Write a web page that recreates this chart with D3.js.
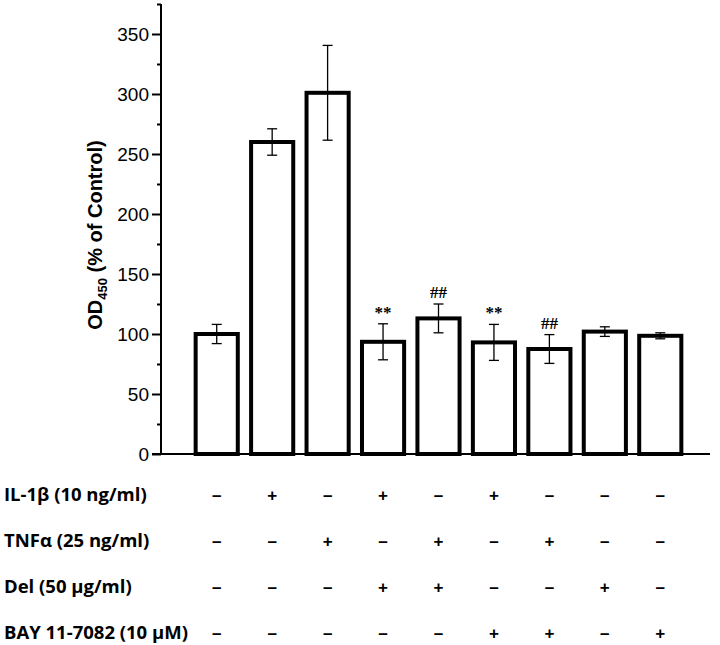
<!DOCTYPE html>
<html>
<head>
<meta charset="utf-8">
<script src="https://cdn.jsdelivr.net/npm/d3@7"></script>
<style>
  body { margin: 0; background: #fff; }
  svg { display: block; }
</style>
</head>
<body>
<svg width="720" height="645"></svg>
<script>
// data
var groups = [1, 2, 3, 4, 5, 6, 7, 8, 9];
var means = [100, 260, 301, 93.5, 113, 93, 87.5, 102, 98.5];
var errs = [8, 11, 39.5, 15, 12, 15, 12, 4, 2.5];
var marks = ["", "", "", "**", "##", "**", "##", "", ""];
var treatNames = ["IL-1\u03b2 (10 ng/ml)", "TNF\u03b1 (25 ng/ml)", "Del (50 \u03bcg/ml)", "BAY 11-7082 (10 \u03bcM)"];
var il1b = [0, 1, 0, 1, 0, 1, 0, 0, 0];
var tnfa = [0, 0, 1, 0, 1, 0, 1, 0, 0];
var del = [0, 0, 0, 1, 1, 0, 0, 1, 0];
var bay = [0, 0, 0, 0, 0, 1, 1, 0, 1];
var yMajor = [0, 50, 100, 150, 200, 250, 300, 350];
var yMinor = [25, 75, 125, 175, 225, 275, 325, 375];

var svg = d3.select("svg");
var x = d3.scaleBand().domain(groups).range([189, 688]).paddingInner(0.24).paddingOuter(0.12);
var y = d3.scaleLinear().domain([0, 375]).range([454, 4]);
var axisX = 161;

// y axis: major ticks + labels
var yAxis = d3.axisLeft(y).tickValues(yMajor).tickSize(9).tickPadding(3).tickFormat(d3.format("d"));
var gy = svg.append("g").attr("transform", "translate(" + axisX + ",0)").call(yAxis);
gy.select(".domain").remove();
gy.selectAll(".tick line").attr("stroke", "#000").attr("stroke-width", 2);
gy.selectAll(".tick text")
    .attr("font-family", "Liberation Sans, Arial, sans-serif")
    .attr("font-size", 19)
    .attr("fill", "#000");

// minor ticks
var yMinorAxis = d3.axisLeft(y).tickValues(yMinor).tickSize(4).tickFormat("");
var gm = svg.append("g").attr("transform", "translate(" + axisX + ",0)").call(yMinorAxis);
gm.select(".domain").remove();
gm.selectAll(".tick line").attr("stroke", "#000").attr("stroke-width", 2);

// axis lines
svg.append("line").attr("x1", axisX).attr("x2", axisX).attr("y1", y(375)).attr("y2", y(0) + 1)
    .attr("stroke", "#000").attr("stroke-width", 2);

// bars
svg.selectAll("rect.bar")
    .data(groups)
    .enter()
    .append("rect")
    .attr("class", "bar")
    .attr("x", function(d) { return x(d); })
    .attr("y", function(d, i) { return y(means[i]); })
    .attr("width", x.bandwidth())
    .attr("height", function(d, i) { return y(0) - y(means[i]); })
    .attr("fill", "#fff")
    .attr("stroke", "#000")
    .attr("stroke-width", 4);

svg.append("line").attr("x1", 152).attr("x2", 710).attr("y1", y(0)).attr("y2", y(0))
    .attr("stroke", "#000").attr("stroke-width", 2);

// error bars
var cx = function(d) { return x(d) + x.bandwidth() / 2; };
var eb = svg.selectAll("g.err").data(groups).enter().append("g").attr("class", "err")
    .attr("stroke", "#000").attr("stroke-width", 1.3);
eb.append("line")
    .attr("x1", cx).attr("x2", cx)
    .attr("y1", function(d, i) { return y(means[i] + errs[i]); })
    .attr("y2", function(d, i) { return y(means[i] - errs[i]); });
eb.append("line")
    .attr("x1", function(d) { return cx(d) - 5; }).attr("x2", function(d) { return cx(d) + 5; })
    .attr("y1", function(d, i) { return y(means[i] + errs[i]); })
    .attr("y2", function(d, i) { return y(means[i] + errs[i]); });
eb.append("line")
    .attr("x1", function(d) { return cx(d) - 5; }).attr("x2", function(d) { return cx(d) + 5; })
    .attr("y1", function(d, i) { return y(means[i] - errs[i]); })
    .attr("y2", function(d, i) { return y(means[i] - errs[i]); });

// significance marks
svg.selectAll("text.sig")
    .data(groups)
    .enter()
    .append("text")
    .attr("class", "sig")
    .attr("x", cx)
    .attr("y", function(d, i) { return y(means[i] + errs[i]) - 6; })
    .attr("text-anchor", "middle")
    .attr("font-family", "Liberation Serif, Times New Roman, serif")
    .attr("font-weight", "bold")
    .attr("font-size", 17)
    .text(function(d, i) { return marks[i]; });

// y label
var yl = svg.append("text")
    .attr("transform", "translate(102,235) rotate(-90)")
    .attr("text-anchor", "middle")
    .attr("font-family", "Liberation Sans, Arial, sans-serif")
    .attr("font-weight", "bold")
    .attr("font-size", 20)
    .attr("fill", "#000");
yl.append("tspan").text("OD");
yl.append("tspan").attr("font-size", 13).attr("dy", 5).text("450");
yl.append("tspan").attr("dy", -5).text(" (% of Control)");

// treatment table
var rows = [il1b, tnfa, del, bay];
var rowY = [495, 541, 587, 633];
rows.forEach(function(row, r) {
    svg.append("text")
        .attr("x", 4)
        .attr("y", rowY[r])
        .attr("dy", "0.35em")
        .attr("font-family", "Open Sans, sans-serif")
        .attr("font-weight", "bold")
        .attr("font-size", 18.5)
        .attr("fill", "#000")
        .text(treatNames[r]);
    svg.selectAll("text.row" + r)
        .data(groups)
        .enter()
        .append("text")
        .attr("class", "row" + r)
        .attr("x", cx)
        .attr("y", rowY[r])
        .attr("dy", "0.35em")
        .attr("text-anchor", "middle")
        .attr("font-family", "Liberation Sans, Arial, sans-serif")
        .attr("font-weight", "bold")
        .attr("font-size", 17)
        .text(function(d, i) { return row[i] ? "+" : "\u2013"; });
});
</script>
</body>
</html>
